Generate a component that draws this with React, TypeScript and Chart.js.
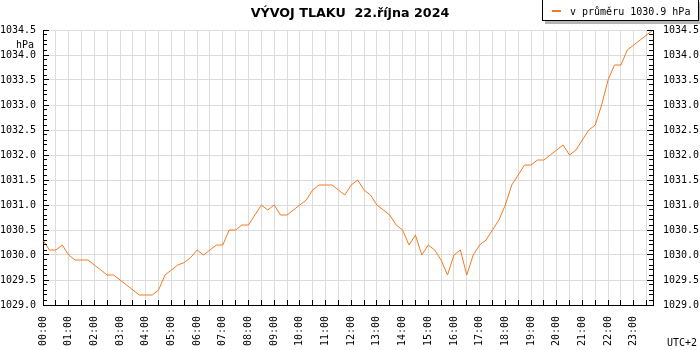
import { useEffect, useRef } from 'react';
import { Chart, registerables } from 'chart.js';

Chart.register(...registerables);

const TITLE = 'VÝVOJ TLAKU  22.října 2024';
const LEGEND_LABEL = 'v průměru 1030.9 hPa';
const UNIT_LABEL = 'hPa';
const TZ_LABEL = 'UTC+2';

const HOUR_LABELS = [
  '00:00', '01:00', '02:00', '03:00', '04:00', '05:00', '06:00', '07:00',
  '08:00', '09:00', '10:00', '11:00', '12:00', '13:00', '14:00', '15:00',
  '16:00', '17:00', '18:00', '19:00', '20:00', '21:00', '22:00', '23:00',
];

const TIMES = [
  '00:00', '00:15', '00:30', '00:45', '01:00', '01:15', '01:30', '01:45',
  '02:00', '02:15', '02:30', '02:45', '03:00', '03:15', '03:30', '03:45',
  '04:00', '04:15', '04:30', '04:45', '05:00', '05:15', '05:30', '05:45',
  '06:00', '06:15', '06:30', '06:45', '07:00', '07:15', '07:30', '07:45',
  '08:00', '08:15', '08:30', '08:45', '09:00', '09:15', '09:30', '09:45',
  '10:00', '10:15', '10:30', '10:45', '11:00', '11:15', '11:30', '11:45',
  '12:00', '12:15', '12:30', '12:45', '13:00', '13:15', '13:30', '13:45',
  '14:00', '14:15', '14:30', '14:45', '15:00', '15:15', '15:30', '15:45',
  '16:00', '16:15', '16:30', '16:45', '17:00', '17:15', '17:30', '17:45',
  '18:00', '18:15', '18:30', '18:45', '19:00', '19:15', '19:30', '19:45',
  '20:00', '20:15', '20:30', '20:45', '21:00', '21:15', '21:30', '21:45',
  '22:00', '22:15', '22:30', '22:45', '23:00', '23:15', '23:30', '23:45',
];

const PRESSURE = [
  1030.3, 1030.1, 1030.1, 1030.2, 1030.0, 1029.9, 1029.9, 1029.9,
  1029.8, 1029.7, 1029.6, 1029.6, 1029.5, 1029.4, 1029.3, 1029.2,
  1029.2, 1029.2, 1029.3, 1029.6, 1029.7, 1029.8, 1029.85, 1029.95,
  1030.1, 1030.0, 1030.1, 1030.2, 1030.2, 1030.5, 1030.5, 1030.6,
  1030.6, 1030.8, 1031.0, 1030.9, 1031.0, 1030.8, 1030.8, 1030.9,
  1031.0, 1031.1, 1031.3, 1031.4, 1031.4, 1031.4, 1031.3, 1031.2,
  1031.4, 1031.5, 1031.3, 1031.2, 1031.0, 1030.9, 1030.8, 1030.6,
  1030.5, 1030.2, 1030.4, 1030.0, 1030.2, 1030.1, 1029.9, 1029.6,
  1030.0, 1030.1, 1029.6, 1030.0, 1030.2, 1030.3, 1030.5, 1030.7,
  1031.0, 1031.4, 1031.6, 1031.8, 1031.8, 1031.9, 1031.9, 1032.0,
  1032.1, 1032.2, 1032.0, 1032.1, 1032.3, 1032.5, 1032.6, 1033.0,
  1033.5, 1033.8, 1033.8, 1034.1, 1034.2, 1034.3, 1034.4, 1034.5,
];

const Y_MIN = 1029.0;
const Y_MAX = 1034.5;

const LINE_COLOR = '#f47a20';
const GRID_COLOR = '#dcdcdc';
const MONO = '"DejaVu Sans Mono", monospace';

const toHours = (t: string) => {
  const [h, m] = t.split(':').map(Number);
  return h + m / 60;
};

const decorPlugin = {
  id: 'decor',
  afterDraw(chart: any) {
    const { ctx, chartArea: a, scales } = chart;
    const xs = scales.x;
    const ys = scales.y;
    ctx.save();
    // inward tick marks
    ctx.strokeStyle = '#000';
    ctx.lineWidth = 1;
    ctx.beginPath();
    const nY = Math.round((Y_MAX - Y_MIN) * 10);
    for (let k = 0; k <= nY; k++) {
      const v = Y_MIN + k / 10;
      const py = Math.round(ys.getPixelForValue(v) - 0.5) + 0.5;
      const len = k % 5 === 0 ? 6 : 4;
      ctx.moveTo(a.left, py);
      ctx.lineTo(a.left + len, py);
      ctx.moveTo(a.right, py);
      ctx.lineTo(a.right - len, py);
    }
    const xMax = xs.max;
    for (let k = 0; k * 0.5 <= xMax + 1e-9; k++) {
      const px = Math.round(xs.getPixelForValue(k * 0.5) - 0.5) + 0.5;
      ctx.moveTo(px, a.bottom);
      ctx.lineTo(px, a.bottom - 5);
    }
    ctx.stroke();

    // title
    ctx.fillStyle = '#000';
    ctx.font = 'bold 12.7px "DejaVu Sans", sans-serif';
    ctx.textAlign = 'center';
    ctx.textBaseline = 'alphabetic';
    ctx.fillText(TITLE, 350, 17);

    // legend box with shadow
    ctx.fillStyle = '#b4b4b4';
    ctx.fillRect(545, 2, 156, 22);
    ctx.fillStyle = '#fff';
    ctx.fillRect(542, -1, 157, 22);
    ctx.strokeStyle = '#000';
    ctx.strokeRect(542.5, -0.5, 156, 21);
    ctx.strokeStyle = LINE_COLOR;
    ctx.lineWidth = 2;
    ctx.beginPath();
    ctx.moveTo(552, 11);
    ctx.lineTo(561, 11);
    ctx.stroke();
    ctx.fillStyle = '#000';
    ctx.font = '10px ' + MONO;
    ctx.textAlign = 'left';
    ctx.fillText(LEGEND_LABEL, 570, 15);

    // unit & timezone labels
    ctx.textAlign = 'right';
    ctx.fillText(UNIT_LABEL, 34, 48);
    ctx.textAlign = 'left';
    ctx.fillText(TZ_LABEL, 667, 346);
    ctx.restore();
  },
};

export default function App() {
  const ref = useRef<HTMLCanvasElement | null>(null);

  useEffect(() => {
    if (!ref.current) return;
    const points = TIMES.map((t, i) => ({ x: toHours(t), y: PRESSURE[i] }));
    const xMax = toHours(TIMES[TIMES.length - 1]);
    const tickFont = { family: MONO, size: 10 };
    const chart = new Chart(ref.current, {
      type: 'line',
      data: {
        datasets: [
          {
            label: LEGEND_LABEL,
            data: points,
            borderColor: LINE_COLOR,
            borderWidth: 1,
            pointRadius: 0,
            tension: 0,
            fill: false,
          },
        ],
      },
      options: {
        animation: false,
        responsive: false,
        devicePixelRatio: 1,
        layout: { padding: { top: 30, left: 0, right: 0, bottom: 0 } },
        plugins: {
          legend: { display: false },
          title: { display: false },
          tooltip: { enabled: false },
        },
        scales: {
          x: {
            type: 'linear',
            position: 'bottom',
            min: 0,
            max: xMax,
            afterFit: (s: any) => {
              s.height = 45;
            },
            grid: { color: GRID_COLOR, drawTicks: false },
            border: { color: '#000' },
            ticks: {
              stepSize: 0.5,
              includeBounds: false,
              autoSkip: false,
              minRotation: 90,
              maxRotation: 90,
              padding: 11,
              color: '#000',
              font: tickFont,
              callback: (v: any) =>
                Number.isInteger(v) ? HOUR_LABELS[v] ?? '' : '',
            },
          },
          y: {
            position: 'left',
            min: Y_MIN,
            max: Y_MAX,
            afterFit: (s: any) => {
              s.width = 43;
            },
            grid: { color: GRID_COLOR, drawTicks: false },
            border: { color: '#000' },
            ticks: {
              stepSize: 0.5,
              padding: 7,
              color: '#000',
              font: tickFont,
              callback: (v: any) => Number(v).toFixed(1),
            },
          },
          y1: {
            position: 'right',
            min: Y_MIN,
            max: Y_MAX,
            afterFit: (s: any) => {
              s.width = 47;
            },
            grid: { display: false, drawTicks: false },
            border: { color: '#000' },
            ticks: {
              stepSize: 0.5,
              padding: 10,
              color: '#000',
              font: tickFont,
              callback: (v: any) => Number(v).toFixed(1),
            },
          },
        },
      },
      plugins: [decorPlugin],
    } as any);
    return () => chart.destroy();
  }, []);

  return (
    <div style={{ position: 'fixed', left: 0, top: 0, width: 700, height: 350, background: '#fff' }}>
      <canvas ref={ref} width={700} height={350} style={{ display: 'block' }} />
    </div>
  );
}
